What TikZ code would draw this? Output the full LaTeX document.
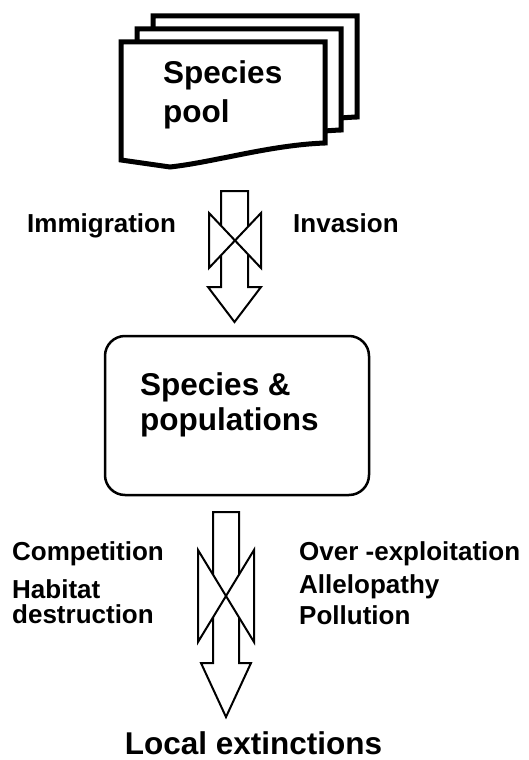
\documentclass[tikz,border=0pt]{standalone}
\usepackage{fontspec}
\setmainfont{Liberation Sans}
\begin{document}
\begin{tikzpicture}[x=1pt,y=-1pt,
  sheetline/.style={line width=5pt, fill=white, line join=miter},
  arrowline/.style={line width=2pt, fill=white, line join=miter},
  lbl/.style={inner sep=0pt, anchor=base west, font=\fontsize{26}{26}\selectfont\bfseries},
  big/.style={inner sep=0pt, anchor=base west, font=\fontsize{31.5}{31.5}\selectfont\bfseries},
  sheet/.pic={\draw[sheetline] (0,0) -- (204,0) -- (204,101) .. controls (149,103) and (94,120) .. (49,125) -- (0,118) -- cycle;}
]
\useasboundingbox[fill=white] (0,0) rectangle (528,760);
% species pool stack
\pic at (153,16) {sheet};
\pic at (137,29) {sheet};
\pic at (121,42) {sheet};
\node[big] (sp1) at (163,83) {Species};
\node[big] (sp2) at (163,122) {pool};
% arrow 1
\draw[arrowline] (221,191) -- (248,191) -- (248,287) -- (261,287) -- (234.5,322) -- (208,287) -- (221,287) -- cycle;
\coordinate (c1) at (235,240.5);
\draw[arrowline] (209,213) -- (c1) -- (209,268) -- cycle;
\draw[arrowline] (261,213) -- (c1) -- (261,268) -- cycle;
\node[lbl] (imm) at (27,232) {Immigration};
\node[lbl] (inv) at (293,232) {Invasion};
% middle box
\node[draw, line width=2.5pt, rounded corners=20pt, minimum width=264pt, minimum height=159pt, inner sep=0pt] (mid) at (237,415.5) {};
\node[big] (sp3) at (140,395) {Species \&};
\node[big] (sp4) at (140,430) {populations};
% arrow 2
\draw[arrowline] (213,512) -- (239,512) -- (239,663) -- (251,663) -- (226,717) -- (201,663) -- (213,663) -- cycle;
\coordinate (c2) at (226,596);
\draw[arrowline] (198,550) -- (c2) -- (198,642) -- cycle;
\draw[arrowline] (254,550) -- (c2) -- (254,642) -- cycle;
\node[lbl] (comp) at (12,560) {Competition};
\node[lbl, text depth=0pt] (hab1) at (12,598) {Habitat};
\node[lbl, text height=18.6pt] (hab2) at (12,623) {destruction};
\node[lbl] (over) at (299,560) {Over -exploitation};
\node[lbl] (alle) at (299,593) {Allelopathy};
\node[lbl] (poll) at (299,624) {Pollution};
\node[big, anchor=base, text depth=0pt] (loc) at (253.5,754) {Local extinctions};
\end{tikzpicture}
\end{document}
